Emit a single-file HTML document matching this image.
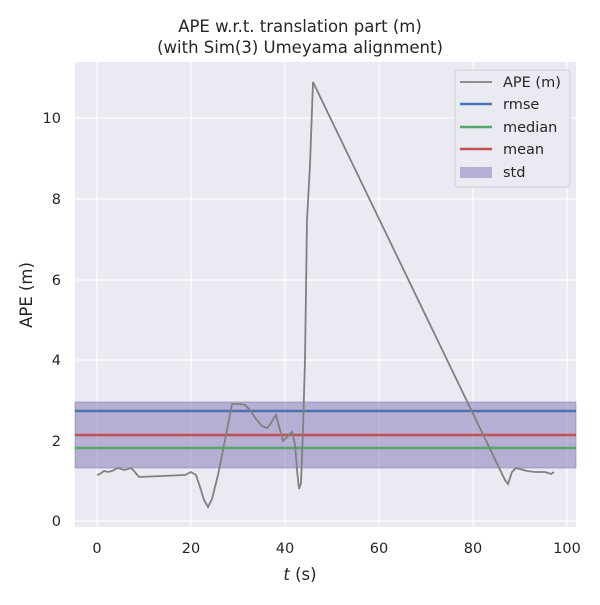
<!DOCTYPE html><html><head><style>body{margin:0;background:#fff}</style></head><body>
<svg width="600" height="600" xmlns="http://www.w3.org/2000/svg" font-family="DejaVu Sans, Liberation Sans, sans-serif">
<rect x="75" y="62" width="501" height="465" fill="#eaeaf2"/>
<g stroke="#fff" stroke-width="1.2">
<line x1="97" y1="62" x2="97" y2="527"/><line x1="191" y1="62" x2="191" y2="527"/><line x1="285" y1="62" x2="285" y2="527"/><line x1="379" y1="62" x2="379" y2="527"/><line x1="473" y1="62" x2="473" y2="527"/><line x1="567" y1="62" x2="567" y2="527"/>
<line x1="75" y1="521" x2="576" y2="521"/><line x1="75" y1="441" x2="576" y2="441"/><line x1="75" y1="360" x2="576" y2="360"/><line x1="75" y1="280" x2="576" y2="280"/><line x1="75" y1="199" x2="576" y2="199"/><line x1="75" y1="118" x2="576" y2="118"/>
</g>
<rect x="75" y="402" width="501" height="66" fill="#8172b3" fill-opacity="0.5" stroke="#8172b3" stroke-opacity="0.5"/>
<line x1="75" y1="411" x2="576" y2="411" stroke="#4c72b0" stroke-width="2.5"/>
<line x1="75" y1="435" x2="576" y2="435" stroke="#c44e52" stroke-width="2.5"/>
<line x1="75" y1="448" x2="576" y2="448" stroke="#55a868" stroke-width="2.5"/>
<polyline fill="none" stroke="#808080" stroke-width="1.8" points="97,475 100,474 104,471 108,472 112,471 118,468 124,470 128,469 131,468 134,471 139,477 185,475 191,472 196,475 200,487 204,500 208,507 212,499 218,475 222,455 227,430 232,404 236,404 240,404 245,405 250,410 256,419 262,426 267,428 271,423 276,415 280,430 283,441 287,437 292,432 295,444 297,470 299,489 301,483 303,430 305,360 307,220 310,165 313,82 505,480 508,484 512,472 516,468 520,469 527,471 535,472 545,472 551,474 554,472"/>
<g font-size="14.5" fill="#262626" text-anchor="middle">
<text x="97" y="553">0</text><text x="191" y="553">20</text><text x="285" y="553">40</text><text x="379" y="553">60</text><text x="473" y="553">80</text><text x="567" y="553">100</text>
<text x="300" y="580" font-size="16.5"><tspan font-style="italic">t</tspan> (s)</text>
<text x="300" y="32" font-size="16.5">APE w.r.t. translation part (m)</text>
<text x="300" y="53" font-size="16.5">(with Sim(3) Umeyama alignment)</text>
</g>
<g font-size="14.5" fill="#262626" text-anchor="end">
<text x="61" y="526">0</text><text x="61" y="446">2</text><text x="61" y="365">4</text><text x="61" y="285">6</text><text x="61" y="204">8</text><text x="61" y="123">10</text>
</g>
<text transform="translate(32,295) rotate(-90)" font-size="16.5" fill="#262626" text-anchor="middle">APE (m)</text>
<rect x="455" y="70" width="115" height="117" rx="3" fill="#eaeaf2" fill-opacity="0.8" stroke="#d0d0d0"/>
<line x1="460" y1="82" x2="492" y2="82" stroke="#808080" stroke-width="1.8"/>
<line x1="460" y1="104" x2="492" y2="104" stroke="#4c72b0" stroke-width="2.5"/>
<line x1="460" y1="127" x2="492" y2="127" stroke="#55a868" stroke-width="2.5"/>
<line x1="460" y1="149" x2="492" y2="149" stroke="#c44e52" stroke-width="2.5"/>
<rect x="460" y="167" width="32" height="11" fill="#8172b3" fill-opacity="0.5"/>
<g font-size="14.5" fill="#262626">
<text x="503" y="87">APE (m)</text><text x="503" y="109">rmse</text><text x="503" y="132">median</text><text x="503" y="154">mean</text><text x="503" y="177">std</text>
</g>
</svg></body></html>
